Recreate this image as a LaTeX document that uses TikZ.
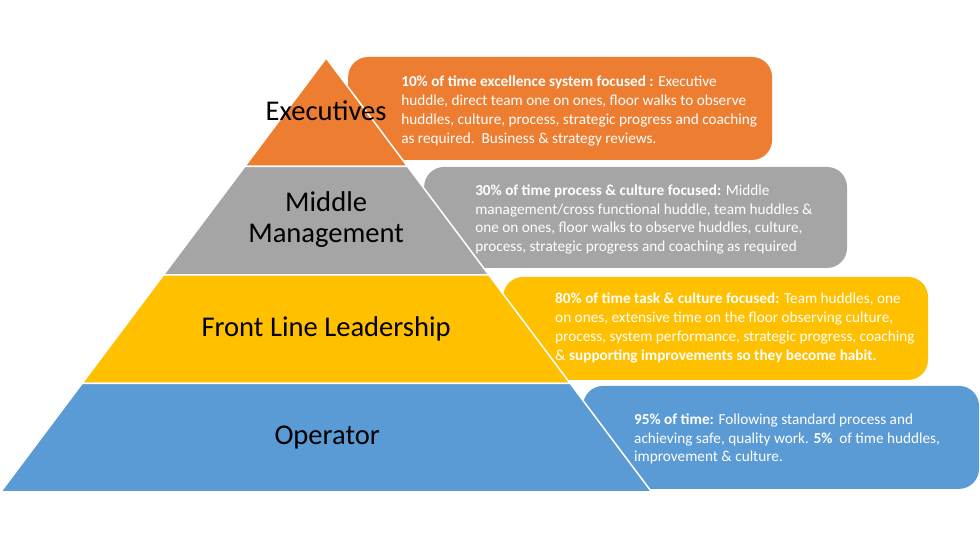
\documentclass[tikz,border=0pt]{standalone}
\usepackage{fontspec}
\setmainfont{Carlito}

\tikzset{every picture/.style={line width=0.75pt}}
\tikzset{
  layer/.style={draw=white, line width=1.5},
  infobox/.style={rounded corners=20, draw=none},
  tierlabel/.style={inner sep=0.75pt, align=center, font=\fontsize{28.6}{31}\selectfont},
  infotext/.style={anchor=west, inner sep=0.75pt, align=left, text=white, font=\fontsize{15.25}{18.8}\selectfont}
}

\begin{document}
\begin{tikzpicture}[x=1pt,y=1pt,yscale=-1]
%set diagram left start at 0, and has size of 980 x 551
\path (0,0) rectangle (980,551);

%Rounded Rect: executives
\draw [infobox, fill={rgb, 255:red, 237; green, 125; blue, 49 }] (348,57) rectangle (772,160) ;
%Rounded Rect: middle management
\draw [infobox, fill={rgb, 255:red, 165; green, 165; blue, 165 }] (424,167) rectangle (847,268) ;
%Rounded Rect: front line
\draw [infobox, fill={rgb, 255:red, 255; green, 192; blue, 0 }] (503,277) rectangle (928,380) ;
%Rounded Rect: operator
\draw [infobox, fill={rgb, 255:red, 91; green, 155; blue, 213 }] (583,386) rectangle (979,489) ;

%Shape: Triangle
\draw [layer, fill={rgb, 255:red, 237; green, 125; blue, 49 }] (326,58) -- (407.4,166.5) -- (244.6,166.5) -- cycle ;
%Shape: Trapezoid
\draw [layer, fill={rgb, 255:red, 165; green, 165; blue, 165 }] (244.6,166.5) -- (407.4,166.5) -- (488.75,275) -- (163.25,275) -- cycle ;
%Shape: Trapezoid
\draw [layer, fill={rgb, 255:red, 255; green, 192; blue, 0 }] (163.25,275) -- (488.75,275) -- (570.1,383.5) -- (81.9,383.5) -- cycle ;
%Shape: Trapezoid
\draw [layer, fill={rgb, 255:red, 91; green, 155; blue, 213 }] (81.9,383.5) -- (570.1,383.5) -- (651.5,492) -- (0.5,492) -- cycle ;

% Text Node
\draw (326,111) node [tierlabel] (exec) {Executives};
% Text Node
\draw (326,220) node [tierlabel] (mid) {Middle\\Management};
% Text Node
\draw (326,329) node [tierlabel] (front) {Front Line Leadership};
% Text Node
\draw (327,438) node [tierlabel] (oper) {Operator};

% Text Node
\draw (400,111) node [infotext] (exectext) {{\bfseries 10\% of time excellence system focused :} Executive\\huddle, direct team one on ones, floor walks to observe\\huddles, culture, process, strategic progress and coaching\\as required.\ \ Business \& strategy reviews.};
% Text Node
\draw (474,219.5) node [infotext] (midtext) {{\bfseries 30\% of time process \& culture focused:} Middle\\management/cross functional huddle, team huddles \&\\one on ones, floor walks to observe huddles, culture,\\process, strategic progress and coaching as required};
% Text Node
\draw (554,328) node [infotext] (fronttext) {{\bfseries 80\% of time task \& culture focused:} Team huddles, one\\on ones, extensive time on the floor observing culture,\\process, system performance, strategic progress, coaching\\\& {\bfseries supporting improvements so they become habit.}};
% Text Node
\draw (633,439) node [infotext] (opertext) {{\bfseries 95\% of time:} Following standard process and\\achieving safe, quality work. {\bfseries 5\%}\ \ of time huddles,\\improvement \& culture.};

\end{tikzpicture}
\end{document}
